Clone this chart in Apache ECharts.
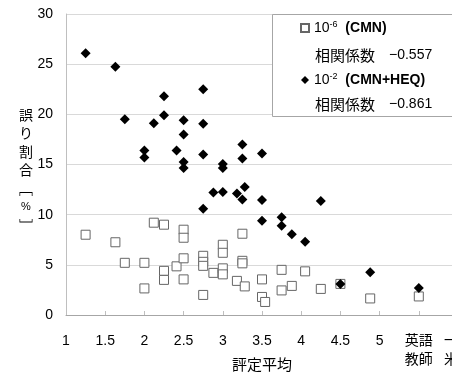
<!DOCTYPE html>
<html>
<head>
<meta charset="utf-8">
<script src="https://cdn.jsdelivr.net/npm/echarts@6/dist/echarts.min.js"></script>
<style>
html,body{margin:0;padding:0;background:#fff;}
#c{width:452px;height:385px;}
</style>
</head>
<body>
<div id="c"></div>
<script>
// ---- data ----
const seriesNames = ['CMN', 'CMN+HEQ'];
const cmnPoints = [
  [1.25, 8.0], [1.63, 7.25], [1.75, 5.2], [2.0, 5.2], [2.0, 2.65], [2.12, 9.2],
  [2.25, 9.0], [2.25, 4.4], [2.25, 3.5], [2.41, 4.85], [2.5, 8.5], [2.5, 7.7],
  [2.5, 5.65], [2.5, 3.55], [2.75, 5.9], [2.75, 5.3], [2.75, 4.9], [2.75, 2.0],
  [2.88, 4.2], [3.0, 7.0], [3.0, 6.2], [3.0, 4.65], [3.0, 4.05], [3.18, 3.4],
  [3.25, 8.1], [3.25, 5.4], [3.25, 5.15], [3.28, 2.85], [3.5, 3.55], [3.5, 1.8],
  [3.54, 1.3], [3.75, 4.5], [3.75, 2.45], [3.88, 2.9], [4.05, 4.35], [4.25, 2.6],
  [4.5, 3.1], [4.88, 1.65], [5.5, 1.85]
];
const heqPoints = [
  [1.25, 26.1], [1.63, 24.75], [1.75, 19.5], [2.0, 16.4], [2.0, 15.7], [2.12, 19.1],
  [2.25, 21.8], [2.25, 19.9], [2.41, 16.4], [2.5, 19.4], [2.5, 18.0], [2.5, 15.25],
  [2.5, 14.65], [2.75, 22.5], [2.75, 19.05], [2.75, 16.0], [2.75, 10.6], [2.88, 12.2],
  [3.0, 15.05], [3.0, 14.65], [3.0, 12.25], [3.18, 12.1], [3.25, 17.0], [3.25, 15.6],
  [3.28, 12.75], [3.25, 11.5], [3.5, 16.1], [3.5, 11.45], [3.5, 9.4], [3.75, 9.75],
  [3.75, 8.9], [3.88, 8.05], [4.05, 7.3], [4.25, 11.35], [4.5, 3.1], [4.88, 4.25],
  [5.5, 2.7]
];
const correlations = ['\u22120.557', '\u22120.861'];
const exponents = ['-6', '-2'];
const specialTickLabels = {5.5: '英語\n教師', 6: '一般\n米人'};
const xAxisTitle = '評定平均';
const yAxisTitle = ['誤', 'り', '割', '合', '﹇', '%', '﹈'];
const corrLabel = '相関係数';

const FONT = '"Liberation Sans", Arial, "Noto Sans CJK JP", sans-serif';
const CJK = '"Noto Sans CJK JP", "Liberation Sans", sans-serif';

const chart = echarts.init(document.getElementById('c'), null, {renderer: 'canvas'});

const yNameRich = yAxisTitle.map(function (ch) {
  return ch === '%' ? '{p|' + ch + '}' : '{a|' + ch + '}';
}).join('\n');

const option = {
  backgroundColor: '#fff',
  animation: false,
  grid: {left: 66, top: 14, width: 392, height: 301, containLabel: false, outerBoundsMode: 'none'},
  xAxis: {
    type: 'value', min: 1, max: 6, interval: 0.5,
    name: xAxisTitle, nameLocation: 'middle', nameGap: 42, nameMoveOverlap: false,
    nameTextStyle: {fontFamily: CJK, fontSize: 15, color: '#000'},
    axisLine: {show: true, lineStyle: {color: '#a6a6a6', width: 1}},
    axisTick: {show: true, inside: true, length: 4, lineStyle: {color: '#bfbfbf'}},
    splitLine: {show: false},
    axisLabel: {
      margin: 17, fontFamily: FONT, fontSize: 14, color: '#000', lineHeight: 19,
      showMaxLabel: true,
      formatter: function (v) {
        return specialTickLabels[v] !== undefined ? specialTickLabels[v] : String(v);
      }
    }
  },
  yAxis: {
    type: 'value', min: 0, max: 30, interval: 5,
    axisLine: {show: true, lineStyle: {color: '#bfbfbf', width: 1}},
    axisTick: {show: false},
    splitLine: {show: true, lineStyle: {color: '#d9d9d9', width: 1}},
    axisLabel: {margin: 13, fontFamily: FONT, fontSize: 14, color: '#000'}
  },
  legend: {
    show: true, orient: 'vertical', left: 300, top: 20, padding: 0,
    itemWidth: 8, itemHeight: 8, itemGap: 36, z: 10,
    data: seriesNames,
    textStyle: {
      fontFamily: FONT, fontSize: 14, color: '#000', lineHeight: 16,
      rich: {
        n: {fontFamily: FONT, fontSize: 14, lineHeight: 16},
        sup: {fontFamily: FONT, fontSize: 9, lineHeight: 9, verticalAlign: 'top'},
        b: {fontFamily: FONT, fontSize: 14, fontWeight: 'bold', lineHeight: 16}
      }
    },
    formatter: function (name) {
      const i = seriesNames.indexOf(name);
      return '{n|10}{sup|' + exponents[i] + '}  {b|(' + name + ')}';
    }
  },
  graphic: [
    {
      type: 'rect', z: 5, left: 272, top: 14,
      shape: {width: 200, height: 102},
      style: {fill: '#fff', stroke: '#a6a6a6', lineWidth: 1}
    },
    {
      type: 'text', z: 6, left: 315, top: 48,
      style: {text: corrLabel, font: '15px ' + CJK, fill: '#000'}
    },
    {
      type: 'text', z: 6, left: 389, top: 48,
      style: {text: correlations[0], font: '14px ' + FONT, fill: '#000'}
    },
    {
      type: 'text', z: 6, left: 315, top: 97,
      style: {text: corrLabel, font: '15px ' + CJK, fill: '#000'}
    },
    {
      type: 'text', z: 6, left: 389, top: 97,
      style: {text: correlations[1], font: '14px ' + FONT, fill: '#000'}
    },
    {
      type: 'text', z: 6, x: 26, y: 105,
      style: {
        text: yNameRich, align: 'center', verticalAlign: 'top', fill: '#000',
        rich: {
          a: {fontFamily: CJK, fontSize: 14, lineHeight: 18.5, fill: '#000'},
          p: {fontFamily: FONT, fontSize: 11, lineHeight: 18.5, fill: '#000'}
        }
      }
    }
  ],
  series: [
    {
      name: seriesNames[0], type: 'scatter', data: cmnPoints,
      symbol: 'rect', symbolSize: 9, z: 2,
      itemStyle: {color: '#fff', borderColor: '#666', borderWidth: 1, opacity: 1}
    },
    {
      name: seriesNames[1], type: 'scatter', data: heqPoints,
      symbol: 'diamond', symbolSize: 10, z: 3,
      itemStyle: {color: '#000', opacity: 1}
    }
  ]
};
chart.setOption(option);
</script>
</body>
</html>
